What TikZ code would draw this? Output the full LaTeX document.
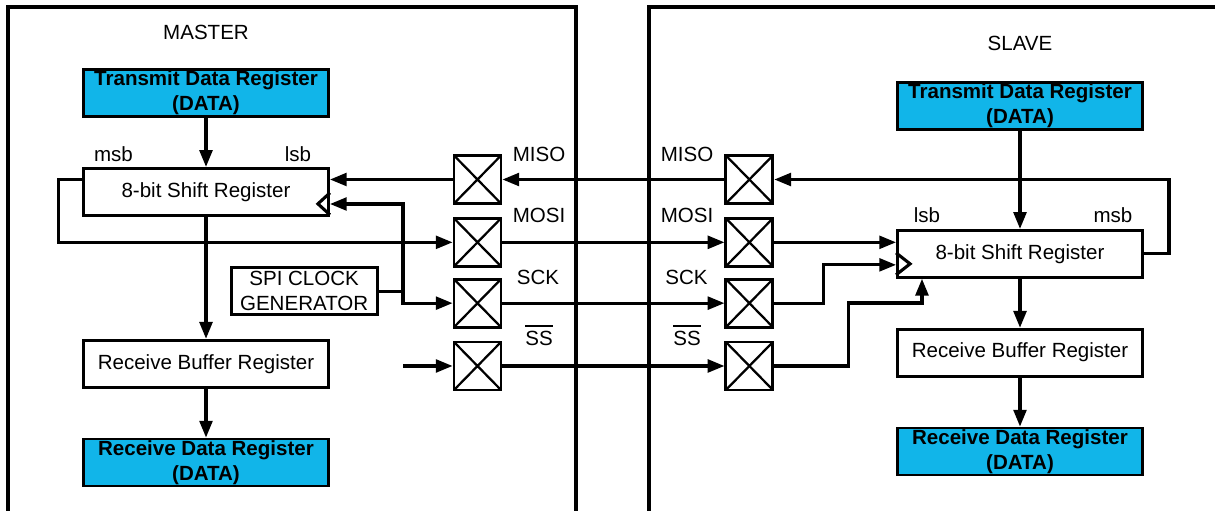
\documentclass[tikz,border=0pt]{standalone}
\usepackage{fontspec}
\setmainfont{Liberation Sans}
\usepackage{xcolor}
\usetikzlibrary{arrows.meta,positioning}

\definecolor{regblue}{RGB}{17,181,233}
\newcommand{\barsig}[1]{\leavevmode\vbox{\hrule height 1.5pt\kern 2.6pt\hbox{#1}}}

\begin{document}
\begin{tikzpicture}[
    x=0.025cm, y=-0.025cm, line width=2pt,
    font=\fontsize{14.6}{17.6}\selectfont,
    reg/.style={rectangle, draw=black, line width=2pt, fill=white, text centered, align=center, inner sep=0pt, minimum width=6.125cm, minimum height=1.175cm},
    datareg/.style={reg, fill=regblue, font=\fontsize{14.6}{17.6}\selectfont\bfseries},
    clkgen/.style={reg, minimum width=3.65cm, minimum height=1.175cm},
    pin/.style={rectangle, draw=black, line width=2pt, inner sep=0pt, minimum width=1.175cm, minimum height=1.2cm,
        path picture={\draw[line width=1.6pt] (path picture bounding box.north west) -- (path picture bounding box.south east)
                            (path picture bounding box.north east) -- (path picture bounding box.south west);}},
    sig/.style={anchor=base, inner sep=0pt},
    frame/.style={draw, line width=2.2pt},
    wire/.style={draw, line width=2.2pt},
    arrow/.style={wire, -{Triangle[length=0.42cm, width=0.32cm]}}
]
    \useasboundingbox (0,0) rectangle (1215,511);

    % Frames
    \draw[frame] (8,511) -- (8,7) -- (576,7) -- (576,511);
    \draw[frame] (649,511) -- (649,7) -- (1215,7);
    \node (mastertitle) at (206,32) {MASTER};
    \node (slavetitle) at (1020,43.5) {SLAVE};

    % Master registers
    \node[datareg] (mtx) at (206,93) {Transmit Data Register\\(DATA)};
    \node[reg, below=1.225cm of mtx] (mshift) {8-bit Shift Register};
    \node[reg, below=3.05cm of mshift] (mrxbuf) {Receive Buffer Register};
    \node[datareg, below=1.225cm of mrxbuf] (mrx) {Receive Data Register\\(DATA)};
    \draw[wire] ([yshift=-0.025cm]mshift.east) -- ++(-12,11) -- ++(12,11);
    \node[sig] (mmsb) at (113.5,162) {msb};
    \node[sig] (mlsb) at (298,162) {lsb};

    % Master pins
    \node[pin] (mmiso) at (477.5,179.5) {};
    \node[pin, below=0.3cm of mmiso] (mmosi) {};
    \node[pin, below=0.25cm of mmosi] (msck) {};
    \node[pin, below=0.3cm of msck] (mss) {};
    \node[clkgen, left=1.85cm of msck, yshift=0.3cm] (mclk) {SPI CLOCK\\GENERATOR};
    \node[sig] (lmmiso) at (539,162) {MISO};
    \node[sig] (lmmosi) at (539,223) {MOSI};
    \node[sig] (lmsck) at (538,285) {SCK};
    \node[sig] (lmss) at (539,345) {\barsig{SS}};

    % Slave registers
    \node[datareg] (stx) at (1020,106) {Transmit Data Register\\(DATA)};
    \node[reg, below=2.45cm of stx] (sshift) {8-bit Shift Register};
    \node[reg, below=1.225cm of sshift] (srxbuf) {Receive Buffer Register};
    \node[datareg, below=1.225cm of srxbuf] (srx) {Receive Data Register\\(DATA)};
    \draw[wire] ([yshift=0.025cm]sshift.west) -- ++(14,11) -- ++(-14,11);
    \node[sig] (slsb) at (927,223) {lsb};
    \node[sig] (smsb) at (1113,223) {msb};

    % Slave pins
    \node[pin, right=5.55cm of mmiso] (smiso) {};
    \node[pin, right=5.55cm of mmosi] (smosi) {};
    \node[pin, right=5.55cm of msck] (ssck) {};
    \node[pin, right=5.55cm of mss] (sss) {};
    \node[sig] (lsmiso) at (687,162) {MISO};
    \node[sig] (lsmosi) at (687,223) {MOSI};
    \node[sig] (lssck) at (686.5,285) {SCK};
    \node[sig] (lsss) at (687,345) {\barsig{SS}};

    % Master connections
    \coordinate (mbus) at (403,204);
    \path [arrow] (mtx) -- (mshift);
    \path [arrow] (mshift) -- (mrxbuf);
    \path [arrow] (mrxbuf) -- (mrx);
    \draw [arrow] (mmiso.west) -- (mmiso.west -| mshift.east);
    \draw [arrow] (mmiso.west -| mshift.west) -- ++(-24,0) |- (mmosi.west);
    \draw [arrow] (mclk.east) -| (mbus) -- (mbus -| mshift.east);
    \draw [arrow] (mclk.east -| mbus) |- (msck.west);
    \draw [arrow] (mss.west -| mbus) -- (mss.west);

    % Lines between the two
    \path [arrow] (smiso) -- (mmiso);
    \path [arrow] (mmosi) -- (smosi);
    \path [arrow] (msck) -- (ssck);
    \path [arrow] (mss) -- (sss);

    % Slave connections
    \path [arrow] (stx) -- (sshift);
    \path [arrow] (sshift) -- (srxbuf);
    \path [arrow] (srxbuf) -- (srx);
    \draw [arrow] (sshift.east) -- ++(25,0) |- (smiso.east);
    \draw [arrow] (smosi.east) -- (smosi.east -| sshift.west);
    \draw [arrow] (ssck.east) -- ++(49,0) |- ([yshift=-0.275cm]sshift.west);
    \draw [arrow] (sss.east) -| ++(74,-63) -| ([xshift=-2.45cm]sshift.south);

\end{tikzpicture}
\end{document}
